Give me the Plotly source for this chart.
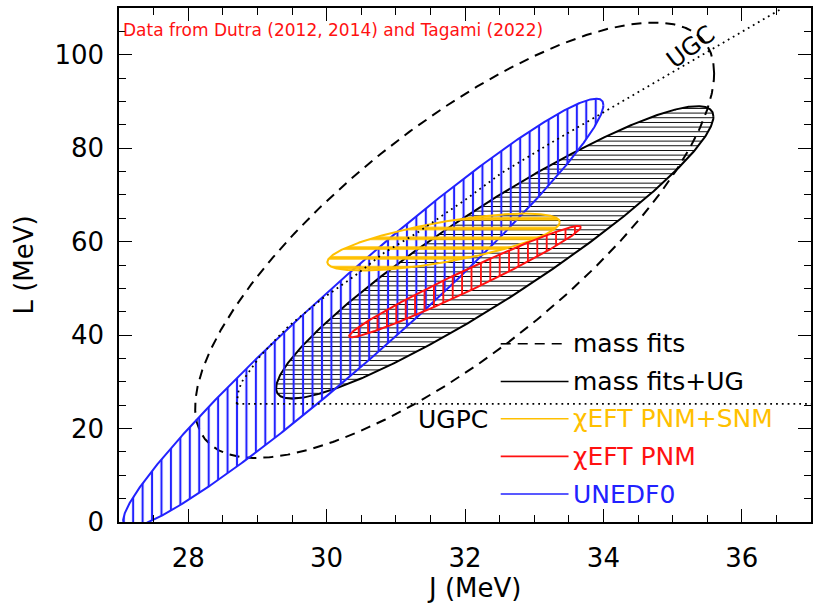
import numpy as np
import plotly.graph_objects as go

# ---- data ----
# Confidence regions in the J-L plane: centre, half-extent in J and L, and J-L correlation
region_names = ["mass fits", "mass fits+UG", "UNEDF0", "χEFT PNM+SNM", "χEFT PNM"]
center_J = [31.85, 32.43, 30.53, 31.69, 32.00]
center_L = [60.3, 57.7, 44.75, 59.9, 51.45]
half_J = [3.75, 3.16, 3.47, 1.68, 1.675]
half_L = [46.6, 31.3, 45.85, 6.1, 11.9]
corr = [0.767, 0.928, 0.970, 0.70, 0.979]

# Unitary-gas constraint curve (UGC) and unitary-gas PNM constraint (UGPC)
ugc_J = [28.70, 28.73, 28.78, 28.90, 29.04, 29.26, 29.45, 29.69, 29.92, 30.16,
         30.40, 30.83, 31.31, 31.98, 32.53, 33.25, 33.97, 35.54, 36.57]
ugc_L = [25.3, 28.3, 30.1, 32.6, 35.5, 39.0, 41.9, 44.8, 47.6, 50.1,
         52.6, 57.6, 61.9, 68.7, 74.7, 81.2, 87.4, 101.1, 109.8]
ugpc_J = [28.70, 37.0]
ugpc_L = [25.3, 25.3]

x_ticks = [28, 30, 32, 34, 36]
y_ticks = [0, 20, 40, 60, 80, 100]

# ---- styles ----
FONT = "DejaVu Sans"
BLUE = "#2222ff"
RED = "#ff1111"
YEL = "#ffc000"
styles = {
    "mass fits": dict(color="black", dash="10px,7px", pattern=None),
    "mass fits+UG": dict(color="black", dash="solid",
                         pattern=dict(shape="-", size=4.67, solidity=0.2, fgcolor="black")),
    "UNEDF0": dict(color=BLUE, dash="solid",
                   pattern=dict(shape="|", size=9.44, solidity=0.22, fgcolor=BLUE)),
    "χEFT PNM+SNM": dict(color=YEL, dash="solid",
                         pattern=dict(shape="-", size=9.8, solidity=0.36, fgcolor=YEL)),
    "χEFT PNM": dict(color=RED, dash="solid",
                     pattern=dict(shape="|", size=9.4, solidity=0.2, fgcolor=RED)),
}

fig = go.Figure()
t = np.linspace(0, 2 * np.pi, 721)
for name, cj, cl, hj, hl, r in zip(region_names, center_J, center_L, half_J, half_L, corr):
    phi = np.arccos(r)
    J = cj + hj * np.cos(t)
    L = cl + hl * np.cos(t - phi)
    st = styles[name]
    kw = dict(x=J, y=L, mode="lines", name=name, showlegend=False, hoverinfo="skip",
              line=dict(color=st["color"], width=2, dash=st["dash"]))
    if st["pattern"] is not None:
        p = dict(st["pattern"])
        p.update(bgcolor="rgba(0,0,0,0)", fillmode="replace")
        kw.update(fill="toself", fillcolor="rgba(0,0,0,0)", fillpattern=p)
    fig.add_trace(go.Scatter(**kw))

fig.add_trace(go.Scatter(x=ugc_J, y=ugc_L, mode="lines", showlegend=False, hoverinfo="skip",
                         line=dict(color="black", width=1.8, dash="1.8px,4px")))
fig.add_trace(go.Scatter(x=ugpc_J, y=ugpc_L, mode="lines", showlegend=False, hoverinfo="skip",
                         line=dict(color="black", width=1.8, dash="1.8px,4px")))

# ---- custom legend (lines + labels) ----
legend_rows = [("mass fits", "black", "10px,7px"),
               ("mass fits+UG", "black", "solid"),
               ("χEFT PNM+SNM", YEL, "solid"),
               ("χEFT PNM", RED, "solid"),
               ("UNEDF0", BLUE, "solid")]
row_y = [0.3467, 0.2734, 0.2009, 0.1276, 0.0544]
for (lab, col, dsh), yy in zip(legend_rows, row_y):
    fig.add_shape(type="line", xref="paper", yref="paper", x0=0.5516, x1=0.6496, y0=yy, y1=yy,
                  line=dict(color=col, width=1.6, dash=dsh))
    fig.add_annotation(xref="paper", yref="paper", x=0.6525, y=yy, text=lab, showarrow=False,
                       xanchor="left", yanchor="middle", font=dict(family=FONT, size=25, color=col))

fig.add_annotation(xref="paper", yref="paper", x=0.5357, y=0.199, text="UGPC", showarrow=False,
                   xanchor="right", yanchor="middle", font=dict(family=FONT, size=25, color="black"))
fig.add_annotation(xref="paper", yref="paper", x=0.826, y=0.9248, text="UGC", showarrow=False,
                   textangle=-37, xanchor="center", yanchor="middle",
                   font=dict(family=FONT, size=24, color="black"))
fig.add_annotation(xref="paper", yref="paper", x=0.0036, y=0.957,
                   text="Data from Dutra (2012, 2014) and Tagami (2022)", showarrow=False,
                   xanchor="left", yanchor="middle", font=dict(family=FONT, size=17, color=RED))
# axis titles
fig.add_annotation(xref="paper", yref="paper", x=0.5126, y=-0.1277, text="J (MeV)", showarrow=False,
                   xanchor="center", yanchor="middle", font=dict(family=FONT, size=26, color="black"))
fig.add_annotation(xref="paper", yref="paper", x=-0.1377, y=0.5003, text="L (MeV)", showarrow=False,
                   textangle=-90, xanchor="center", yanchor="middle",
                   font=dict(family=FONT, size=26, color="black"))

axis_common = dict(showgrid=False, zeroline=False, showline=True, linecolor="black", linewidth=1.5,
                   mirror="ticks", ticks="inside", ticklen=13, tickwidth=1.2, tickcolor="black",
                   tickfont=dict(family=FONT, size=26, color="black"))
fig.update_xaxes(range=[27, 37], tickmode="array", tickvals=x_ticks,
                 minor=dict(tickmode="linear", tick0=27, dtick=0.5, ticks="inside", ticklen=7,
                            tickwidth=1, tickcolor="black"),
                 ticklabelstandoff=12, **axis_common)
fig.update_yaxes(range=[0, 110], tickmode="array", tickvals=y_ticks,
                 minor=dict(tickmode="linear", tick0=0, dtick=5, ticks="inside", ticklen=7,
                            tickwidth=1, tickcolor="black"),
                 ticklabelstandoff=8, **axis_common)

fig.update_layout(width=814, height=604, margin=dict(l=119, r=1, t=8, b=82),
                  paper_bgcolor="white", plot_bgcolor="white", showlegend=False,
                  font=dict(family=FONT))
fig.write_html("out.html")
